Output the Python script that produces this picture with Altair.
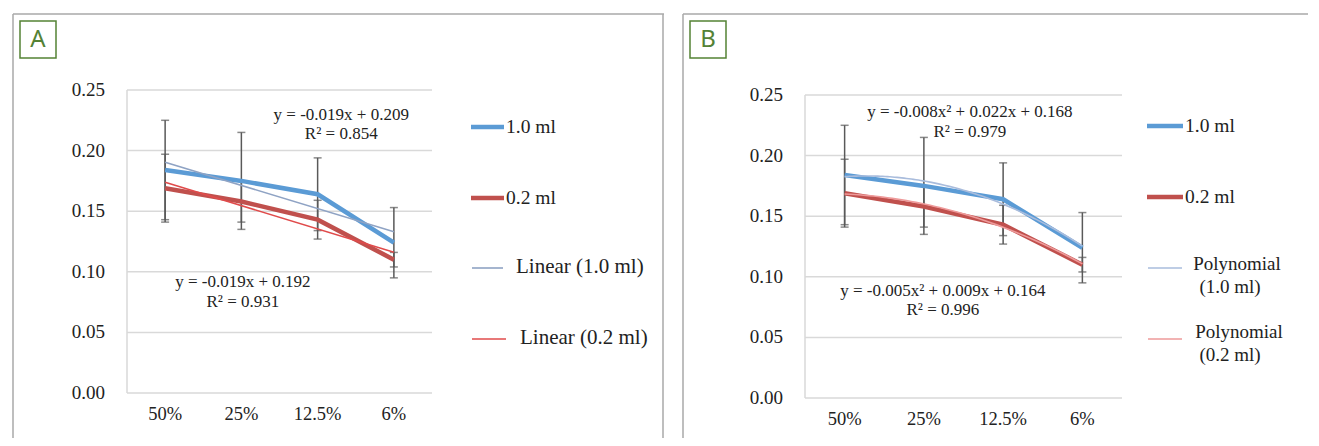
import altair as alt
import pandas as pd

# ---------------- data ----------------
categories = ["50%", "25%", "12.5%", "6%"]
series_names = ["1.0 ml", "0.2 ml"]
mean_10 = [0.184, 0.175, 0.164, 0.124]
mean_02 = [0.169, 0.158, 0.143, 0.110]
err_10 = [0.041, 0.040, 0.030, 0.029]
err_02 = [0.028, 0.017, 0.016, 0.006]
y_ticks = [0.00, 0.05, 0.10, 0.15, 0.20, 0.25]

eq_A_top = ["y = -0.019x + 0.209", "R² = 0.854"]
eq_A_bot = ["y = -0.019x + 0.192", "R² = 0.931"]
eq_B_top = ["y = -0.008x² + 0.022x + 0.168", "R² = 0.979"]
eq_B_bot = ["y = -0.005x² + 0.009x + 0.164", "R² = 0.996"]

legend_A = ["1.0 ml", "0.2 ml", "Linear (1.0 ml)", "Linear (0.2 ml)"]
legend_B = ["1.0 ml", "0.2 ml", "Polynomial", "(1.0 ml)", "Polynomial", "(0.2 ml)"]

# ---------------- styles ----------------
FONT = "Liberation Serif"
BLUE = "#5B9BD5"
RED = "#C0504D"
GRID = "#d9d9d9"
FRAME = "#a9a9a9"
ERR = "#595959"
GREEN = "#548235"

rows = []
for s, means, errs in [(series_names[0], mean_10, err_10), (series_names[1], mean_02, err_02)]:
    for i, (c, m, e) in enumerate(zip(categories, means, errs)):
        rows.append({"series": s, "x": i + 1, "cat": c, "mean": m, "lo": m - e, "hi": m + e})
df = pd.DataFrame(rows)
df_cat = pd.DataFrame({"x": list(range(1, len(categories) + 1)), "cat": categories, "y0": 0.0})
df_ticks = pd.DataFrame({"y": y_ticks, "lab": [f"{v:.2f}" for v in y_ticks],
                         "x0": 0.5, "x1": len(categories) + 0.5})
df_axis = pd.DataFrame({"x0": [0.5], "y0": [0.0], "y1": [y_ticks[-1]]})


def one(t):
    return pd.DataFrame({"t": [t]})


def panel(letter, W, H, pl, pr, pt, pb, method, trend_colors, eqs, legend, right_border):
    band = (pr - pl) / 4.0
    xmin = 0.5 - pl / band
    xmax = 0.5 + (W - pl) / band
    unit = (pb - pt) / 0.25
    ymax = 0.25 + pt / unit
    ymin = -(H - pb) / unit
    xs = alt.Scale(domain=[xmin, xmax], nice=False, zero=False)
    ys = alt.Scale(domain=[ymin, ymax], nice=False, zero=False)

    def X(f):
        return alt.X(f, scale=xs, axis=None)

    def Y(f):
        return alt.Y(f, scale=ys, axis=None)

    layers = []
    # gridlines
    layers.append(alt.Chart(df_ticks).mark_rule(color=GRID, strokeWidth=1.5).encode(
        x=X("x0:Q"), x2="x1:Q", y=Y("y:Q")))
    # left axis line
    layers.append(alt.Chart(df_axis).mark_rule(color=GRID, strokeWidth=1.5).encode(
        x=X("x0:Q"), y=Y("y0:Q"), y2="y1:Q"))
    # y tick labels
    layers.append(alt.Chart(df_ticks).mark_text(font=FONT, fontSize=19, align="right",
                                                baseline="middle", dx=-22, color="#222").encode(
        x=X("x0:Q"), y=Y("y:Q"), text="lab:N"))
    # x labels
    layers.append(alt.Chart(df_cat).mark_text(font=FONT, fontSize=18.5, align="center",
                                              baseline="middle", dy=21, color="#222").encode(
        x=X("x:Q"), y=Y("y0:Q"), text="cat:N"))
    # error bars
    layers.append(alt.Chart(df).mark_rule(color=ERR, strokeWidth=1.5).encode(
        x=X("x:Q"), y=Y("lo:Q"), y2="hi:Q"))
    for f in ["lo", "hi"]:
        layers.append(alt.Chart(df).mark_tick(orient="horizontal", color=ERR, size=8,
                                              thickness=1.5).encode(
            x=X("x:Q"), y=Y(f + ":Q")))
    # thick series lines
    for s, col in zip(series_names, [BLUE, RED]):
        layers.append(alt.Chart(df).transform_filter(alt.datum.series == s).mark_line(
            color=col, strokeWidth=4.5).encode(x=X("x:Q"), y=Y("mean:Q")))
    # trend lines
    for s, col in zip(series_names, trend_colors):
        base = alt.Chart(df).transform_filter(alt.datum.series == s)
        if method == "linear":
            tr = base.transform_regression("x", "mean", method="linear", extent=[1, 4])
        else:
            tr = base.transform_regression("x", "mean", method="poly", order=2, extent=[1, 4])
        layers.append(tr.mark_line(color=col, strokeWidth=1.6).encode(
            x=X("x:Q"), y=Y("mean:Q")))
    # equations
    for (lines, xv, yv1, yv2) in eqs:
        eqdf = pd.DataFrame({"t": lines, "ex": [xv, xv], "ey": [yv1, yv2]})
        layers.append(alt.Chart(eqdf).mark_text(font=FONT, fontSize=17, align="center",
                                                baseline="middle", color="#222").encode(
            x=X("ex:Q"), y=Y("ey:Q"), text="t:N"))
    # legend
    for item in legend:
        kind = item[0]
        if kind == "line":
            _, x0, x1, yy, col, sw = item
            layers.append(alt.Chart(one("")).mark_rule(color=col, strokeWidth=sw).encode(
                x=alt.value(x0), x2=alt.value(x1), y=alt.value(yy)))
        else:
            _, txt, xx, yy, size, al = item
            layers.append(alt.Chart(one(txt)).mark_text(font=FONT, fontSize=size, align=al,
                                                        baseline="middle", color="#222").encode(
                x=alt.value(xx), y=alt.value(yy), text="t:N"))
    # panel frame (left, top, optional right; no bottom)
    layers.append(alt.Chart(one("")).mark_rule(color=FRAME, strokeWidth=1.5).encode(
        x=alt.value(1), y=alt.value(1), y2=alt.value(H)))
    layers.append(alt.Chart(one("")).mark_rule(color=FRAME, strokeWidth=1.5).encode(
        x=alt.value(1), x2=alt.value(W), y=alt.value(1)))
    if right_border:
        layers.append(alt.Chart(one("")).mark_rule(color=FRAME, strokeWidth=1.5).encode(
            x=alt.value(W - 1), y=alt.value(1), y2=alt.value(H)))
    # letter box
    layers.append(alt.Chart(one("")).mark_rect(fill="white", stroke=GREEN, strokeWidth=1.5).encode(
        x=alt.value(8), x2=alt.value(44), y=alt.value(8), y2=alt.value(45)))
    layers.append(alt.Chart(one(letter)).mark_text(font="Noto Sans", fontSize=24, color=GREEN,
                                                   align="center", baseline="middle").encode(
        x=alt.value(26), y=alt.value(27), text="t:N"))
    return alt.layer(*layers).properties(width=W, height=H)


H = 425
# Panel A: frame origin (12, 13) on page
oxA, oyA = 12, 13
legA = [
    ("line", 471 - oxA, 504 - oxA, 127 - oyA, BLUE, 4.5),
    ("text", legend_A[0], 506 - oxA, 127 - oyA, 19.5, "left"),
    ("line", 471 - oxA, 504 - oxA, 198 - oyA, RED, 4.5),
    ("text", legend_A[1], 506 - oxA, 198 - oyA, 19.5, "left"),
    ("line", 472 - oxA, 503 - oxA, 268 - oyA, "#8FA3C4", 1.6),
    ("text", legend_A[2], 516 - oxA, 267 - oyA, 21, "left"),
    ("line", 472 - oxA, 506 - oxA, 339 - oyA, "#E04B4B", 1.6),
    ("text", legend_A[3], 520 - oxA, 338 - oyA, 21, "left"),
]
panelA = panel("A", 652, H, 127 - oxA, 432 - oxA, 90 - oyA, 393 - oyA, "linear",
               ["#8FA3C4", "#E04B4B"],
               [(eq_A_top, 3.31, 0.229, 0.2137), (eq_A_bot, 2.02, 0.0916, 0.0751)],
               legA, True)

# Panel B: frame origin (681, 13)
oxB, oyB = 681, 13
legB = [
    ("line", 1146 - oxB, 1182 - oxB, 126 - oyB, BLUE, 4.5),
    ("text", legend_B[0], 1184 - oxB, 126 - oyB, 19.5, "left"),
    ("line", 1146 - oxB, 1182 - oxB, 197 - oyB, RED, 4.5),
    ("text", legend_B[1], 1184 - oxB, 197 - oyB, 19.5, "left"),
    ("line", 1147 - oxB, 1181 - oxB, 268 - oyB, "#A9BCDC", 1.6),
    ("text", legend_B[2], 1236 - oxB, 264 - oyB, 19, "center"),
    ("text", legend_B[3], 1229 - oxB, 287 - oyB, 19, "center"),
    ("line", 1147 - oxB, 1181 - oxB, 339 - oyB, "#EE9A9A", 1.6),
    ("text", legend_B[4], 1238 - oxB, 332 - oyB, 19, "center"),
    ("text", legend_B[5], 1229 - oxB, 355 - oyB, 19, "center"),
]
panelB = panel("B", 626, H, 804 - oxB, 1121 - oxB, 95 - oyB, 398 - oyB, "poly",
               ["#A9BCDC", "#EE9A9A"],
               [(eq_B_top, 2.58, 0.236, 0.2194), (eq_B_bot, 2.24, 0.0881, 0.0724)],
               legB, False)

chart = alt.hconcat(panelA, panelB, spacing=17).properties(
    padding={"left": 4, "top": 5, "right": 0, "bottom": 0},
    background="white",
).configure_view(stroke="transparent", strokeWidth=0)

chart.save("out.html", embed_options={"renderer": "svg", "actions": False})
